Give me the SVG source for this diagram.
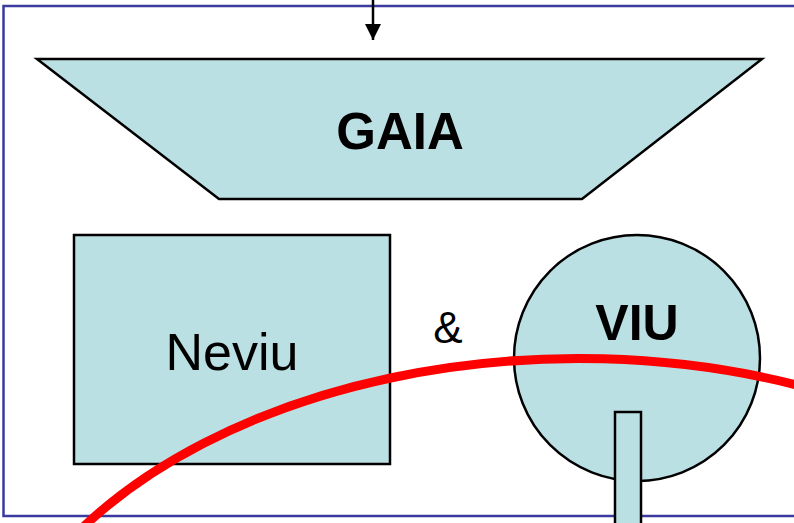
<svg xmlns="http://www.w3.org/2000/svg" width="794" height="523" viewBox="0 0 794 523">
<style>
.shape{fill:#BBE0E3;stroke:#000;stroke-width:2.5}
.t{font-family:"Liberation Sans",Arial,sans-serif;fill:#000;text-anchor:middle}
.b{font-weight:bold}
</style>
<defs>
<marker id="ah" markerWidth="16" markerHeight="16" refX="16" refY="8" orient="auto" markerUnits="userSpaceOnUse" viewBox="0 0 16 16">
<path d="M0,0 L16,8 L0,16 Z" fill="#000"/>
</marker>
</defs>
<rect id="frame" x="3.5" y="6" width="800" height="510" fill="#fff" stroke="#3A3AA0" stroke-width="2.5"/>
<g id="gaia">
<polygon class="shape" points="37,59 762,59 582,199 219,199"/>
<text class="t b" x="400" y="149" font-size="51">GAIA</text>
</g>
<g id="neviu">
<rect class="shape" x="74" y="235" width="316" height="229"/>
<text class="t" x="232" y="370" font-size="52">Neviu</text>
</g>
<g id="amp">
<text class="t" x="448" y="343" font-size="44">&amp;</text>
</g>
<g id="viu">
<circle class="shape" cx="637" cy="358" r="123"/>
<text class="t b" x="637" y="340" font-size="50">VIU</text>
</g>
<g id="stem">
<rect class="shape" x="615" y="412" width="26" height="120"/>
</g>
<g id="connectors">
<line x1="373" y1="-2" x2="373" y2="40" stroke="#000" stroke-width="2.5" marker-end="url(#ah)"/>
<path d="M 70 540 A 600 386.7 0 0 1 800 385.8" fill="none" stroke="#FF0000" stroke-width="9"/>
</g>
</svg>
